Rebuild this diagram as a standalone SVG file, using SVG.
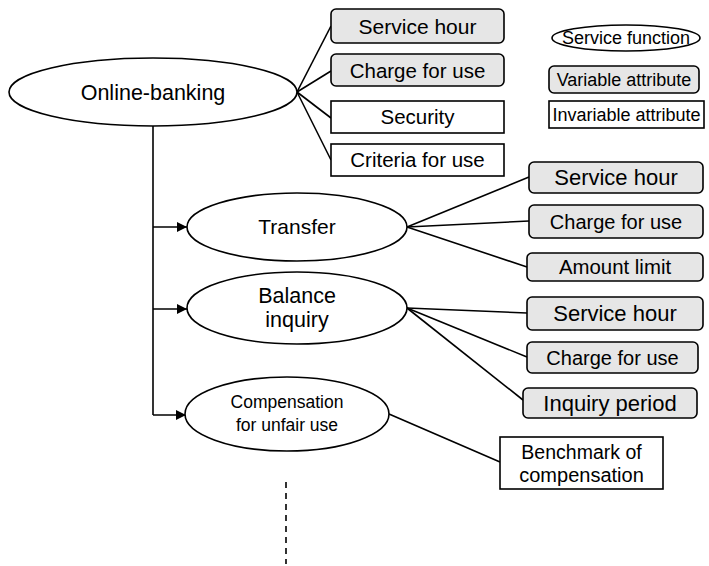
<svg xmlns="http://www.w3.org/2000/svg" width="709" height="566" viewBox="0 0 709 566">
<style>
text{font-family:"Liberation Sans",Arial,sans-serif;fill:#000;text-anchor:middle}
.e{fill:#fff;stroke:#000;stroke-width:1.6}
.v{fill:#e6e6e6;stroke:#000;stroke-width:1.6}
.i{fill:#fff;stroke:#000;stroke-width:1.6}
.c{stroke:#000;stroke-width:1.6;fill:none}
</style>
<defs>
<marker id="ah" viewBox="0 0 10 10" refX="10" refY="5" markerWidth="10" markerHeight="10" markerUnits="userSpaceOnUse" orient="auto">
<path d="M0,0 L10,5 L0,10 Z" fill="#000"/>
</marker>
</defs>
<g id="connectors">
<line class="c" x1="297" y1="92" x2="331" y2="26"/>
<line class="c" x1="297" y1="92" x2="331" y2="71"/>
<line class="c" x1="297" y1="92" x2="331" y2="118"/>
<line class="c" x1="297" y1="92" x2="331" y2="160"/>
<polyline class="c" points="153,126 153,415"/>
<line class="c" x1="153" y1="227" x2="187" y2="227" marker-end="url(#ah)"/>
<line class="c" x1="153" y1="309" x2="187" y2="309" marker-end="url(#ah)"/>
<line class="c" x1="153" y1="415" x2="186" y2="415" marker-end="url(#ah)"/>
<line class="c" x1="407" y1="227" x2="529" y2="177"/>
<line class="c" x1="407" y1="227" x2="529" y2="221"/>
<line class="c" x1="407" y1="227" x2="527" y2="267"/>
<line class="c" x1="407" y1="308" x2="527" y2="313"/>
<line class="c" x1="407" y1="308" x2="527" y2="357"/>
<line class="c" x1="407" y1="308" x2="523" y2="400"/>
<line class="c" x1="389" y1="414" x2="500" y2="462"/>
<line class="c" x1="286" y1="482" x2="286" y2="564" stroke-dasharray="6,5"/>
</g>
<g id="online-banking">
<ellipse class="e" cx="153" cy="92" rx="144" ry="34"/>
<text x="153" y="100" font-size="21.5">Online-banking</text>
</g>
<g id="ob-service-hour">
<rect class="v" x="331" y="9" width="173" height="34" rx="5"/>
<text x="417.5" y="34" font-size="21">Service hour</text>
</g>
<g id="ob-charge">
<rect class="v" x="331" y="54" width="173" height="32" rx="5"/>
<text x="417.5" y="78" font-size="20.5">Charge for use</text>
</g>
<g id="ob-security">
<rect class="i" x="331" y="101" width="173" height="32"/>
<text x="417.5" y="124" font-size="20.5">Security</text>
</g>
<g id="ob-criteria">
<rect class="i" x="331" y="144" width="173" height="32"/>
<text x="417.5" y="167" font-size="20.5">Criteria for use</text>
</g>
<g id="legend-function">
<ellipse class="e" cx="626" cy="38" rx="74" ry="13"/>
<text x="626" y="44" font-size="18">Service function</text>
</g>
<g id="legend-variable">
<rect class="v" x="549" y="66" width="150" height="27" rx="5"/>
<text x="624" y="86" font-size="18">Variable attribute</text>
</g>
<g id="legend-invariable">
<rect class="i" x="549" y="101" width="155" height="27"/>
<text x="626.5" y="121" font-size="18">Invariable attribute</text>
</g>
<g id="transfer">
<ellipse class="e" cx="297" cy="227" rx="110" ry="34"/>
<text x="297" y="234" font-size="21">Transfer</text>
</g>
<g id="balance-inquiry">
<ellipse class="e" cx="297" cy="308" rx="110" ry="36"/>
<text x="297" y="303" font-size="21.5">Balance</text>
<text x="297" y="327" font-size="21.5">inquiry</text>
</g>
<g id="compensation">
<ellipse class="e" cx="287" cy="414" rx="102" ry="37"/>
<text x="287" y="408" font-size="17.5">Compensation</text>
<text x="287" y="431" font-size="17.5">for unfair use</text>
</g>
<g id="tr-service-hour">
<rect class="v" x="529" y="162" width="174" height="31" rx="5"/>
<text x="616" y="185" font-size="22">Service hour</text>
</g>
<g id="tr-charge">
<rect class="v" x="529" y="205" width="174" height="33" rx="5"/>
<text x="616" y="229" font-size="20">Charge for use</text>
</g>
<g id="tr-amount">
<rect class="v" x="527" y="253" width="176" height="28" rx="5"/>
<text x="615" y="274" font-size="20.4">Amount limit</text>
</g>
<g id="bi-service-hour">
<rect class="v" x="527" y="297" width="176" height="33" rx="5"/>
<text x="615" y="321" font-size="22">Service hour</text>
</g>
<g id="bi-charge">
<rect class="v" x="527" y="342" width="171" height="31" rx="5"/>
<text x="612.5" y="365" font-size="20">Charge for use</text>
</g>
<g id="bi-inquiry-period">
<rect class="v" x="523" y="388" width="174" height="30" rx="5"/>
<text x="610" y="411" font-size="22">Inquiry period</text>
</g>
<g id="benchmark">
<rect class="i" x="500" y="437" width="163" height="52"/>
<text x="581.5" y="459" font-size="19.5">Benchmark of</text>
<text x="581.5" y="482" font-size="20">compensation</text>
</g>
</svg>
